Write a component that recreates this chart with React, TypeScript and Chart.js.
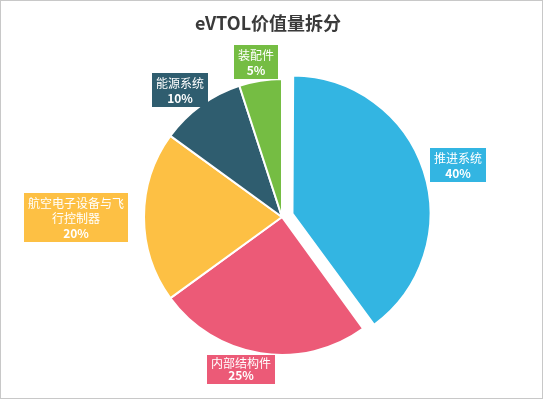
import React, { useEffect, useRef } from "react";
import { Chart, registerables } from "chart.js";

Chart.register(...registerables);

const categories = ["推进系统", "内部结构件", "航空电子设备与飞行控制器", "能源系统", "装配件"];
const shares = [40, 25, 20, 10, 5];
const sliceColors = ["#33b5e2", "#ec5a77", "#fdc044", "#2f5d6f", "#75bd43"];
const sliceOffsets = [44, 0, 0, 0, 0];
const titleText = "eVTOL价值量拆分";

const W = 543;
const H = 399;
const PIE_R = 138;

// Chart.js grows an offset arc's radius by offset/4 * (1 - sin(circumference)); undo that growth
const radiusFix = {
  id: "radiusFix",
  beforeDatasetsDraw(chart: any) {
    const meta = chart.getDatasetMeta(0);
    meta.data.forEach((arc: any, i: number) => {
      const off = (sliceOffsets[i] || 0) / 4;
      if (!off) return;
      const circ = arc.circumference;
      const fix = 1 - Math.sin(Math.min(Math.PI, circ || 0));
      arc.outerRadius = PIE_R - off * fix;
    });
  },
};

const labelPlugin = {
  id: "sliceLabels",
  afterDatasetsDraw(chart: any) {
    const ctx = chart.ctx as CanvasRenderingContext2D;
    const meta = chart.getDatasetMeta(0);
    const fontFamily = '"Noto Sans CJK SC", "Microsoft YaHei", sans-serif';
    const padX = 4;
    const padY = 2;
    const maxLineW = 97;
    meta.data.forEach((arc: any, i: number) => {
      const p = arc.getProps(["x", "y", "startAngle", "endAngle"], true);
      const mid = (p.startAngle + p.endAngle) / 2;
      const dx = Math.cos(mid);
      const dy = Math.sin(mid);
      const off = (sliceOffsets[i] || 0) / 4;
      const ox = p.x + dx * off;
      const oy = p.y + dy * off;
      const R0 = PIE_R - 1;

      ctx.save();
      ctx.font = `12px ${fontFamily}`;
      const name = categories[i];
      const lines: string[] = [];
      let cur = "";
      for (const ch of Array.from(name)) {
        if (ctx.measureText(cur + ch).width > maxLineW && cur) {
          lines.push(cur);
          cur = ch;
        } else cur += ch;
      }
      if (cur) lines.push(cur);
      const pct = shares[i] + "%";
      let tw = 0;
      lines.forEach((l) => (tw = Math.max(tw, ctx.measureText(l).width)));
      ctx.font = `bold 12px ${fontFamily}`;
      tw = Math.max(tw, ctx.measureText(pct).width);
      let lineH = 15;
      const nLines = lines.length + 1;
      const bw = tw + padX * 2;
      let bh = nLines * lineH + padY * 2;
      let cx = ox + dx * (R0 + 1.32 * (bw / 2));
      let cy = oy + dy * (R0 + 1.2 * (bh / 2));
      let by = cy - bh / 2;
      const limit = H - 15;
      if (by + bh > limit) {
        const rc = Math.hypot(cx - ox, cy - oy);
        bh = limit - by;
        lineH = (bh - padY * 2) / nLines;
        cy = by + bh / 2;
        const ddy = cy - oy;
        cx = ox + Math.sign(dx) * Math.sqrt(Math.max(rc * rc - ddy * ddy, 0));
      }
      const bx = Math.round(cx - bw / 2);
      by = Math.round(by);
      bh = Math.round(bh);
      ctx.fillStyle = sliceColors[i];
      ctx.fillRect(bx, by, bw, bh);
      ctx.fillStyle = "#ffffff";
      ctx.textAlign = "center";
      ctx.textBaseline = "middle";
      ctx.font = `12px ${fontFamily}`;
      lines.forEach((l, k) => {
        ctx.fillText(l, bx + bw / 2, by + padY + lineH * k + lineH / 2 + 0.5);
      });
      ctx.font = `bold 12px ${fontFamily}`;
      ctx.fillText(pct, bx + bw / 2, by + padY + lineH * lines.length + lineH / 2 + 0.5);
      ctx.restore();
    });

    ctx.save();
    ctx.font = `bold 18px ${fontFamily}`;
    ctx.fillStyle = "#3a3a3a";
    ctx.textAlign = "center";
    ctx.textBaseline = "middle";
    ctx.fillText(titleText, 268, 23);
    ctx.restore();
  },
};

export default function App() {
  const canvasRef = useRef<HTMLCanvasElement | null>(null);

  useEffect(() => {
    const canvas = canvasRef.current;
    if (!canvas) return;
    const chart = new Chart(canvas, {
      type: "pie",
      data: {
        labels: categories,
        datasets: [
          {
            data: shares,
            backgroundColor: sliceColors,
            borderColor: "#ffffff",
            borderWidth: 2,
            offset: sliceOffsets,
            hoverOffset: 0,
            radius: PIE_R,
          } as any,
        ],
      },
      options: {
        responsive: false,
        animation: false,
        layout: { padding: { left: 60, right: 39, top: 60, bottom: 25 } },
        plugins: {
          legend: { display: false },
          title: { display: false },
          tooltip: { enabled: false },
        },
        events: [],
      },
      plugins: [radiusFix, labelPlugin],
    });
    return () => chart.destroy();
  }, []);

  return (
    <div style={{ position: "fixed", left: 0, top: 0, width: W, height: H, background: "#fff" }}>
      <canvas ref={canvasRef} width={W} height={H} style={{ display: "block", width: W, height: H }} />
      <div
        style={{
          position: "absolute",
          left: 0,
          top: 0,
          width: W,
          height: H,
          boxSizing: "border-box",
          border: "1px solid #c8c8c8",
          pointerEvents: "none",
        }}
      />
    </div>
  );
}
